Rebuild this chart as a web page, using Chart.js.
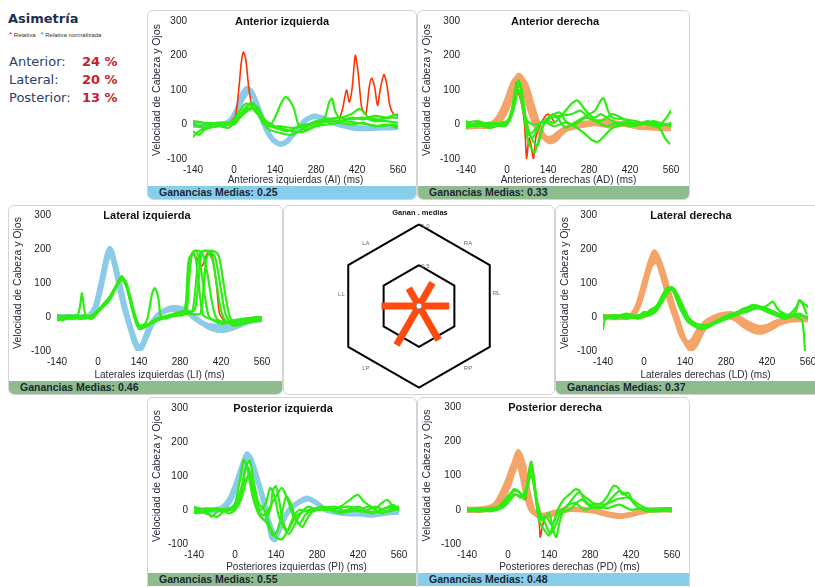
<!DOCTYPE html>
<html>
<head>
<meta charset="utf-8">
<script src="https://cdn.jsdelivr.net/npm/chart.js@4.4.1/dist/chart.umd.min.js"></script>
<style>
body{margin:0;width:815px;height:587px;position:relative;overflow:hidden;background:#fff;font-family:'Liberation Sans',Arial,sans-serif;}
.panel{position:absolute;box-sizing:border-box;border:1px solid #d4d4d4;border-radius:6px;overflow:hidden;background:#fff}
.bar{position:absolute;left:0;right:0;bottom:0;height:13px;font-weight:bold;font-size:10.5px;line-height:13px;padding-left:11px;color:#1c2833;white-space:nowrap}
.blue{background:#87ceeb}
.green{background:#8fbc8f}
canvas{position:absolute}
.ttl{position:absolute;font-weight:bold;font-size:11px;color:#111;transform:translate(-50%,-50%);white-space:nowrap}
.asy{position:absolute;font-family:'DejaVu Sans',sans-serif;font-size:13px;color:#2b3f66;white-space:nowrap}
.pct{position:absolute;font-family:'DejaVu Sans',sans-serif;font-size:13px;font-weight:bold;color:#c8202a;white-space:nowrap}
</style>
</head>
<body>
<div id="asimetria"></div>
<div id="paneles"></div>
<script>
// ejes comunes
const timeTicks = [-140, 0, 140, 280, 420, 560];
const velTicks = [-100, 0, 100, 200, 300];

// asimetría
const asimetriaLabels = ['Anterior:', 'Lateral:', 'Posterior:'];
const asimetriaPct = [24, 20, 13];

// ganancias medias por canal
const canales = ['LA', 'RA', 'LL', 'RL', 'LP', 'RP'];
const canalAngulos = [120, 60, 180, 0, 240, 300];
const gananciasMedias = [0.25, 0.33, 0.46, 0.37, 0.55, 0.48];
const anillos = [0.5, 1.0];

// ---- Anterior izquierda (AI) ----
const aiHead1 = [[-140,2],[-100,0],[-60,0],[-30,3],[-10,15],[10,45],[30,90],[45,105],[60,95],[80,55],[100,5],[120,-30],[140,-50],[160,-58],[180,-50],[200,-30],[220,-10],[240,10],[260,20],[290,22],[320,15],[360,0],[400,-5],[440,-10],[480,-10],[520,-8],[560,-5]];
const aiHead2 = [[-140,-3],[-100,-2],[-60,-3],[-30,0],[-10,10],[10,35],[30,75],[50,95],[65,85],[85,45],[105,0],[125,-35],[145,-52],[165,-55],[185,-45],[205,-25],[225,-5],[250,15],[275,25],[300,18],[340,5],[380,-5],[420,-12],[460,-12],[500,-10],[540,-10],[560,-8]];
const aiRed1 = [[-10,10],[5,25],[15,90],[25,180],[32,210],[40,190],[50,110],[60,60],[75,40],[90,25]];
const aiRed2 = [[360,15],[372,50],[384,100],[394,65],[404,110],[414,200],[424,150],[436,50],[450,30],[462,110],[470,135],[480,110],[490,55],[500,105],[512,145],[522,115],[532,55],[545,30],[560,25]];
const aiEye1 = [[-140,5],[-120,-5],[-100,0],[-80,5],[-60,0],[-40,-5],[-20,0],[0,10],[20,30],[40,50],[60,60],[80,50],[100,20],[120,0],[140,-10],[160,-15],[180,-20],[200,-15],[220,-5],[240,0],[280,5],[320,15],[360,20],[400,15],[440,20],[480,10],[520,10],[560,5]];
const aiEye2 = [[-140,-35],[-120,-20],[-100,-10],[-80,0],[-40,5],[0,5],[20,25],[40,45],[60,65],[80,45],[100,10],[120,-5],[140,20],[160,60],[175,80],[190,70],[205,45],[220,0],[240,-15],[260,-10],[300,5],[340,10],[380,10],[420,5],[460,0],[500,-5],[540,0],[560,-5]];
const aiEye3 = [[-140,0],[-100,-10],[-60,5],[-20,5],[0,15],[20,40],[40,60],[60,55],[80,35],[100,5],[120,-15],[160,-25],[200,-30],[240,-10],[280,5],[310,20],[325,65],[335,75],[345,40],[360,20],[400,30],[430,45],[460,20],[500,15],[540,25],[560,30]];
const aiEye4 = [[-140,10],[-100,5],[-60,0],[-20,-10],[0,5],[20,20],[40,40],[60,50],[80,40],[100,15],[120,5],[140,-5],[160,-5],[200,-10],[240,-5],[280,10],[320,15],[360,10],[400,20],[440,15],[480,25],[520,20],[560,20]];
const aiEye5 = [[-140,-20],[-120,-30],[-100,-15],[-60,-5],[-20,0],[0,0],[20,20],[40,35],[60,45],[80,30],[100,5],[120,-5],[160,-10],[200,-20],[240,-20],[280,-5],[320,0],[360,5],[400,0],[440,5],[480,-5],[520,0],[560,-10]];

// ---- Anterior derecha (AD) ----
const adHead1 = [[-140,-5],[-100,-5],[-60,-3],[-40,5],[-20,25],[0,60],[20,110],[40,143],[60,120],[80,70],[100,15],[120,-25],[140,-45],[160,-45],[180,-30],[200,-15],[240,-5],[280,0],[320,5],[360,0],[400,0],[440,-5],[480,-5],[520,-10],[560,-10]];
const adHead2 = [[-140,-8],[-100,-6],[-60,-5],[-40,0],[-20,15],[0,45],[20,95],[45,135],[65,115],[85,60],[105,5],[125,-35],[145,-50],[165,-45],[185,-25],[210,-10],[250,0],[290,5],[330,10],[370,5],[410,0],[450,-8],[490,-10],[530,-12],[560,-12]];
const adHead3 = [[-140,-2],[-100,-3],[-60,0],[-40,10],[-20,35],[0,75],[20,120],[35,135],[55,110],[75,50],[95,0],[115,-30],[135,-40],[155,-38],[175,-25],[200,-10],[240,0],[280,5],[320,0],[360,-5],[400,5],[440,0],[480,-5],[520,-8],[560,-8]];
const adRed1 = [[30,120],[50,60],[60,0],[67,-100],[75,-40],[82,-60],[90,-100],[100,-30],[120,10],[140,30],[160,10]];
const adEye1 = [[-140,10],[-120,0],[-100,5],[-80,0],[-60,-5],[-40,5],[-20,0],[0,5],[15,40],[30,110],[40,128],[50,90],[60,20],[70,-40],[80,-65],[95,-80],[110,-40],[125,0],[140,10],[160,5],[180,20],[200,40],[220,60],[240,70],[260,50],[280,30],[300,20],[320,30],[340,20],[360,10],[380,0],[400,5],[440,0],[480,5],[520,-5],[560,5]];
const adEye2 = [[-140,0],[-100,-5],[-60,5],[-20,-5],[0,0],[15,30],[30,90],[42,115],[55,70],[65,0],[75,-30],[90,-20],[110,0],[140,20],[160,30],[180,10],[200,-10],[220,0],[260,20],[300,40],[320,70],[330,76],[345,40],[360,20],[400,15],[440,10],[480,0],[520,5],[560,-5]];
const adEye3 = [[-140,-10],[-100,0],[-60,-10],[-20,0],[0,5],[20,50],[35,105],[45,120],[55,60],[70,-10],[85,-40],[100,-20],[120,10],[160,-5],[200,5],[240,-10],[270,-30],[290,-45],[310,-50],[330,-35],[360,-10],[400,0],[440,5],[480,0],[520,-10],[540,-40],[555,-55]];
const adEye4 = [[-140,5],[-100,10],[-60,0],[-20,5],[0,10],[20,45],[38,125],[50,100],[62,30],[75,-20],[90,-50],[105,-60],[120,-10],[140,15],[180,25],[220,30],[250,40],[280,20],[320,10],[360,30],[400,15],[440,0],[480,10],[520,0],[545,20],[560,40]];
const adEye5 = [[-140,-5],[-100,0],[-60,5],[-20,-5],[0,0],[20,35],[40,100],[55,40],[70,10],[90,0],[120,5],[150,25],[180,35],[200,10],[230,0],[270,20],[300,10],[340,-5],[380,5],[420,-5],[460,0],[500,10],[540,0],[560,0]];

// ---- Lateral izquierda (LI) ----
const liHead1 = [[-140,0],[-100,0],[-60,0],[-30,5],[-10,30],[10,100],[30,180],[40,202],[50,185],[70,110],[90,30],[110,-30],[130,-85],[140,-98],[150,-90],[170,-45],[190,-10],[210,10],[240,25],[270,28],[300,20],[330,0],[360,-20],[400,-30],[440,-30],[480,-20],[520,-10],[560,-5]];
const liHead2 = [[-140,-3],[-100,-2],[-60,-2],[-30,2],[-10,20],[10,85],[30,165],[42,190],[55,165],[75,95],[95,20],[115,-40],[132,-80],[145,-88],[160,-70],[180,-30],[200,0],[230,18],[260,25],[290,22],[320,5],[350,-15],[390,-35],[430,-40],[470,-30],[510,-15],[560,-8]];
const liHead3 = [[-140,2],[-100,1],[-60,0],[-30,3],[-10,25],[10,90],[28,170],[38,195],[48,180],[65,120],[85,40],[105,-20],[125,-75],[138,-95],[152,-80],[172,-35],[195,-5],[220,15],[250,22],[280,20],[310,10],[340,-10],[380,-25],[420,-25],[460,-15],[500,-10],[560,-5]];
const liRed1 = [[300,10],[312,120],[320,187],[335,175],[355,150],[375,190],[390,180],[405,90],[415,10],[430,-10]];
const liEye1 = [[-140,0],[-120,-10],[-100,5],[-80,0],[-60,-5],[-40,0],[-20,5],[0,20],[20,40],[40,60],[60,90],[80,118],[95,100],[110,50],[125,0],[140,-30],[160,-25],[180,-15],[200,-5],[220,0],[240,5],[260,10],[280,15],[295,20],[305,80],[315,160],[325,192],[345,195],[360,180],[375,120],[390,40],[405,-5],[430,-15],[460,-10],[500,-5],[540,0],[560,-5]];
const liEye2 = [[-140,-10],[-110,-5],[-80,5],[-50,0],[-20,-5],[0,15],[20,35],[40,55],[60,85],[80,115],[95,105],[110,60],[125,10],[140,-25],[160,-30],[180,-20],[200,-10],[230,0],[260,5],[290,10],[320,15],[330,60],[340,150],[350,190],[370,195],[390,170],[405,100],[420,20],[440,-15],[480,-20],[520,-10],[560,-8]];
const liEye3 = [[-140,5],[-110,0],[-80,-5],[-50,5],[-20,0],[0,18],[20,38],[40,58],[60,88],[80,120],[95,98],[110,45],[125,-5],[140,-35],[160,-28],[180,-18],[210,-5],[240,0],[270,5],[300,10],[330,8],[350,10],[360,80],[370,170],[385,195],[410,185],[425,120],[440,40],[455,-10],[480,-20],[520,-15],[560,-10]];
const liEye4 = [[-140,-10],[-100,0],[-70,5],[-60,40],[-55,70],[-48,30],[-40,0],[-20,5],[0,15],[40,55],[80,115],[100,90],[120,20],[140,-35],[160,-30],[180,-20],[220,-5],[260,5],[300,10],[310,100],[320,185],[335,195],[350,150],[365,60],[380,0],[420,-20],[460,-15],[500,-10],[560,-5]];
const liEye5 = [[-140,5],[-100,-5],[-60,0],[-20,0],[0,15],[40,50],[80,110],[100,85],[120,20],[140,-25],[160,-20],[170,0],[185,70],[194,85],[205,60],[215,0],[230,-5],[260,5],[300,15],[330,20],[345,120],[355,190],[380,195],[400,175],[420,80],[435,10],[460,-25],[500,-20],[540,-10],[560,-10]];
const liEye6 = [[-140,-5],[-100,5],[-60,-5],[-20,5],[0,20],[40,58],[80,116],[100,80],[120,15],[140,-30],[170,-22],[200,-8],[240,0],[270,5],[290,5],[300,30],[305,120],[312,175],[330,185],[340,130],[350,50],[360,5],[400,-10],[440,-15],[480,-10],[520,-5],[560,0]];

// ---- Lateral derecha (LD) ----
const ldHead1 = [[-140,0],[-100,0],[-60,0],[-40,5],[-20,40],[0,100],[20,160],[35,192],[50,170],[70,115],[90,55],[110,5],[130,-50],[150,-85],[165,-80],[185,-50],[210,-20],[240,-5],[270,5],[300,5],[330,-15],[360,-30],[390,-38],[420,-35],[450,-20],[480,-10],[520,-5],[560,-5]];
const ldHead2 = [[-140,-2],[-100,-2],[-60,-1],[-40,3],[-20,30],[0,85],[20,150],[32,175],[48,160],[68,105],[88,45],[108,-5],[128,-55],[148,-75],[165,-70],[185,-40],[210,-15],[240,0],[270,8],[300,10],[330,-5],[360,-20],[390,-30],[420,-28],[450,-15],[490,-8],[530,-5],[560,-3]];
const ldHead3 = [[-140,2],[-100,1],[-60,2],[-40,8],[-20,35],[0,90],[22,150],[42,165],[58,150],[78,95],[98,35],[118,-20],[140,-70],[160,-95],[178,-80],[198,-45],[220,-20],[250,-5],[280,0],[310,-5],[340,-25],[370,-40],[400,-45],[430,-35],[460,-20],[500,-10],[540,-8],[560,-8]];
const ldEye1 = [[-140,-35],[-130,0],[-100,5],[-60,0],[-20,5],[0,10],[20,15],[40,25],[60,60],[80,87],[100,75],[120,30],[140,0],[160,-20],[180,-30],[200,-30],[220,-25],[240,-15],[260,-10],[280,-5],[300,5],[320,15],[340,25],[360,30],[380,35],[400,30],[420,20],[440,10],[460,5],[480,0],[500,5],[520,0],[540,-10],[550,-100]];
const ldEye2 = [[-140,5],[-100,-5],[-60,5],[-20,0],[0,15],[20,10],[40,20],[60,45],[80,80],[90,85],[110,60],[130,15],[150,-15],[170,-25],[200,-35],[230,-20],[260,-5],[300,10],[340,20],[370,35],[400,25],[430,40],[440,45],[460,20],[480,10],[500,0],[520,20],[530,50],[545,40],[560,30]];
const ldEye3 = [[-140,0],[-100,5],[-60,-5],[-20,5],[0,5],[20,20],[40,30],[60,55],[80,75],[100,80],[120,45],[140,10],[160,-10],[180,-20],[210,-25],[240,-20],[270,-10],[300,0],[330,10],[360,20],[390,25],[420,15],[450,5],[480,-5],[520,5],[560,0]];
const ldEye4 = [[-140,-5],[-100,0],[-60,0],[-20,-5],[0,0],[20,5],[40,15],[60,40],[80,70],[100,85],[120,55],[140,20],[160,-15],[190,-35],[220,-30],[250,-15],[280,0],[310,10],[340,20],[380,30],[420,25],[460,10],[500,5],[530,10],[560,-5]];
const ldEye5 = [[-140,5],[-100,0],[-60,10],[-20,0],[0,5],[20,10],[40,20],[60,50],[75,80],[95,88],[115,65],[135,25],[155,-5],[175,-20],[200,-25],[230,-20],[260,-10],[290,0],[320,10],[350,15],[380,25],[410,30],[440,15],[470,5],[500,10],[520,30],[530,45],[540,40],[555,10]];

// ---- Posterior izquierda (PI) ----
const piHead1 = [[-140,0],[-100,0],[-60,2],[-40,10],[-20,30],[0,70],[20,120],[40,165],[55,150],[75,95],[95,35],[110,-20],[125,-80],[135,-88],[150,-60],[170,-20],[190,5],[220,25],[245,35],[270,25],[300,5],[340,-5],[380,-10],[420,-10],[460,-15],[500,-10],[540,-5],[560,-5]];
const piHead2 = [[-140,-2],[-100,-2],[-60,0],[-40,5],[-20,22],[0,58],[22,110],[45,150],[62,130],[82,75],[100,20],[118,-40],[135,-72],[148,-65],[165,-30],[185,0],[215,20],[250,32],[280,20],[310,0],[350,-8],[390,-12],[430,-12],[470,-15],[510,-10],[560,-6]];
const piEye1 = [[-140,5],[-100,0],[-80,-20],[-60,-5],[-20,0],[0,20],[15,80],[30,148],[45,110],[60,40],[80,-10],[100,-30],[120,0],[130,60],[140,70],[150,30],[165,-40],[180,-60],[200,-30],[220,-10],[250,0],[280,5],[320,0],[360,10],[400,35],[420,45],[440,25],[480,5],[500,20],[520,30],[540,10],[560,5]];
const piEye2 = [[-140,-5],[-100,5],[-60,0],[-20,5],[0,10],[20,60],[40,130],[55,100],[70,30],[90,-20],[110,-40],[130,-75],[145,-60],[160,-10],[175,40],[190,20],[210,-30],[230,-50],[250,-20],[270,0],[300,10],[340,-5],[380,0],[420,10],[460,-5],[500,0],[540,15],[560,0]];
const piEye3 = [[-140,0],[-100,-10],[-60,-20],[-40,-5],[0,5],[20,40],[35,120],[50,145],[65,80],[80,20],[100,0],[120,-50],[140,-80],[160,-86],[180,-60],[200,-20],[220,0],[260,-5],[300,5],[340,10],[380,-5],[420,0],[460,10],[500,-10],[540,5],[560,0]];
const piEye4 = [[-140,10],[-100,0],[-60,5],[-20,-10],[0,0],[20,30],[40,90],[50,110],[65,60],[85,0],[105,20],[120,65],[135,40],[150,-20],[165,-50],[185,-70],[205,-40],[225,-10],[250,10],[280,0],[320,5],[360,-10],[400,0],[440,-5],[480,10],[520,-5],[560,5]];
const piEye5 = [[-140,-10],[-100,-5],[-60,0],[-20,5],[0,15],[25,70],[45,100],[60,60],[80,-5],[100,-15],[120,10],[140,40],[160,65],[180,30],[200,-20],[220,-40],[240,-15],[270,5],[310,0],[350,5],[390,10],[430,0],[470,-10],[510,5],[560,10]];

// ---- Posterior derecha (PD) ----
const pdHead1 = [[-140,0],[-100,0],[-60,5],[-40,15],[-20,40],[0,80],[20,135],[35,170],[50,140],[65,60],[80,5],[100,-15],[130,-20],[160,-10],[200,0],[250,0],[300,-5],[340,-15],[380,-20],[420,-15],[460,-5],[500,0],[560,0]];
const pdHead2 = [[-140,-2],[-100,-2],[-60,2],[-40,10],[-20,30],[0,65],[20,115],[40,150],[55,125],[70,50],[85,0],[105,-18],[135,-18],[165,-8],[205,0],[255,2],[305,-5],[345,-12],[385,-18],[425,-12],[465,-5],[505,0],[560,0]];
const pdHead3 = [[-140,2],[-100,2],[-60,8],[-40,20],[-20,50],[0,90],[15,125],[28,140],[42,120],[58,55],[75,5],[95,-12],[125,-15],[155,-8],[195,0],[245,0],[295,-3],[335,-12],[375,-18],[415,-15],[455,-5],[500,0],[560,0]];
const pdRed1 = [[60,30],[70,100],[78,141],[88,100],[100,0],[107,-41],[110,-80],[115,-60],[125,-20]];
const pdEye1 = [[-140,0],[-100,5],[-60,0],[-40,5],[-20,20],[0,40],[20,55],[40,50],[55,30],[65,60],[75,130],[80,140],[90,80],[100,0],[110,-40],[125,-60],[140,-75],[155,-40],[170,0],[190,30],[210,45],[230,60],[245,55],[260,30],[280,15],[320,20],[340,40],[360,70],[375,65],[390,45],[410,50],[430,20],[460,0],[500,0],[540,5],[560,0]];
const pdEye2 = [[-140,-5],[-100,0],[-60,5],[-20,10],[0,30],[20,45],[40,40],[60,50],[72,110],[80,125],[92,50],[105,-20],[120,-30],[140,-10],[155,-60],[165,-80],[175,-40],[190,0],[210,20],[240,50],[260,40],[290,20],[330,15],[370,30],[410,35],[440,10],[480,-5],[520,0],[560,-5]];
const pdEye3 = [[-140,5],[-100,-5],[-60,0],[-20,15],[0,35],[20,60],[35,55],[55,40],[70,80],[78,120],[88,90],[100,20],[115,-30],[130,-20],[150,-45],[170,-10],[200,10],[230,20],[260,0],[300,10],[340,5],[380,15],[420,0],[460,5],[500,-5],[560,0]];
const pdEye4 = [[-140,0],[-100,0],[-60,-5],[-20,5],[0,20],[25,45],[45,35],[65,70],[80,100],[95,40],[110,-10],[130,-45],[145,-70],[160,-50],[180,-10],[210,0],[250,30],[280,10],[320,5],[350,30],[380,55],[400,45],[430,25],[470,5],[510,0],[560,5]];

const colorOjo = '#2fec14';
const colorRojo = '#ff3300';
const colorAzul = '#8ccbe8';
const colorNaranja = '#f4a469';
const fuente = "'Liberation Sans', Arial, sans-serif";

// paneles: caja del panel, lienzo y área del gráfico (px)
const paneles = [
  {id: 'ai', titulo: 'Anterior izquierda', eje: 'Anteriores izquierdas (AI) (ms)', gi: 0, barra: 'blue',
   panel: [147, 10, 270, 190], canvas: [147, 9, 270, 178], plot: [193, 398, 21, 159], tx: 282,
   head: [aiHead1, aiHead2], headColor: colorAzul, red: [aiRed1, aiRed2], eye: [aiEye1, aiEye2, aiEye3, aiEye4, aiEye5]},
  {id: 'ad', titulo: 'Anterior derecha', eje: 'Anteriores derechas (AD) (ms)', gi: 1, barra: 'green',
   panel: [417, 10, 273, 190], canvas: [417, 9, 273, 178], plot: [466, 671, 21, 159], tx: 555,
   head: [adHead1, adHead2, adHead3], headColor: colorNaranja, red: [adRed1], eye: [adEye1, adEye2, adEye3, adEye4, adEye5]},
  {id: 'li', titulo: 'Lateral izquierda', eje: 'Laterales izquierdas (LI) (ms)', gi: 2, barra: 'green',
   panel: [8, 205, 275, 190], canvas: [8, 205, 275, 177], plot: [57, 262, 215, 351], tx: 147,
   head: [liHead1, liHead2, liHead3], headColor: colorAzul, red: [liRed1], eye: [liEye1, liEye2, liEye3, liEye4, liEye5, liEye6]},
  {id: 'ld', titulo: 'Lateral derecha', eje: 'Laterales derechas (LD) (ms)', gi: 3, barra: 'green',
   panel: [555, 205, 275, 190], canvas: [555, 205, 260, 177], plot: [603, 808, 215, 351], tx: 691,
   head: [ldHead1, ldHead2, ldHead3], headColor: colorNaranja, red: [], eye: [ldEye1, ldEye2, ldEye3, ldEye4, ldEye5]},
  {id: 'pi', titulo: 'Posterior izquierda', eje: 'Posteriores izquierdas (PI) (ms)', gi: 4, barra: 'green',
   panel: [147, 397, 270, 195], canvas: [147, 397, 270, 177], plot: [194, 399, 408, 544], tx: 283,
   head: [piHead1, piHead2], headColor: colorAzul, red: [], eye: [piEye1, piEye2, piEye3, piEye4, piEye5]},
  {id: 'pd', titulo: 'Posterior derecha', eje: 'Posteriores derechas (PD) (ms)', gi: 5, barra: 'blue',
   panel: [417, 397, 273, 195], canvas: [417, 397, 273, 177], plot: [467, 672, 407, 544], tx: 555,
   head: [pdHead1, pdHead2, pdHead3], headColor: colorNaranja, red: [pdRed1], eye: [pdEye1, pdEye2, pdEye3, pdEye4]}
];

const cont = document.getElementById('paneles');

function crearPanel(p) {
  const [pl, pt, pw, ph] = p.panel;
  const div = document.createElement('div');
  div.className = 'panel';
  Object.assign(div.style, {left: pl + 'px', top: pt + 'px', width: pw + 'px', height: ph + 'px'});
  const bar = document.createElement('div');
  bar.className = 'bar ' + p.barra;
  if (ph > 190) bar.style.bottom = (ph - 190) + 'px';
  bar.textContent = 'Ganancias Medias: ' + gananciasMedias[p.gi].toFixed(2);
  div.appendChild(bar);
  cont.appendChild(div);
}

function crearGrafico(p) {
  const [cl, ct, cw, ch] = p.canvas;
  const [L, R, T, B] = p.plot;
  const canvas = document.createElement('canvas');
  canvas.width = cw; canvas.height = ch;
  Object.assign(canvas.style, {left: cl + 'px', top: ct + 'px', width: cw + 'px', height: ch + 'px'});
  document.body.appendChild(canvas);

  const t = document.createElement('div');
  t.className = 'ttl';
  t.style.left = p.tx + 'px';
  t.style.top = T + 'px';
  t.textContent = p.titulo;
  document.body.appendChild(t);

  const datasets = [];
  p.eye.forEach(d => datasets.push({data: d, borderColor: colorOjo, borderWidth: 2.2, order: 0}));
  p.red.forEach(d => datasets.push({data: d, borderColor: colorRojo, borderWidth: 1.6, order: 1}));
  p.head.forEach(d => datasets.push({data: d, borderColor: p.headColor, borderWidth: 5, order: 2}));

  const yw = L - cl;
  const xh = ct + ch - B;

  new Chart(canvas, {
    type: 'line',
    data: {datasets: datasets},
    options: {
      responsive: false,
      animation: false,
      layout: {padding: {left: 0, top: T - ct, right: cl + cw - R, bottom: 0}},
      elements: {
        point: {radius: 0},
        line: {tension: 0.25, borderJoinStyle: 'round', borderCapStyle: 'round'}
      },
      plugins: {legend: {display: false}, tooltip: {enabled: false}},
      scales: {
        x: {
          type: 'linear',
          min: timeTicks[0],
          max: timeTicks[timeTicks.length - 1],
          grid: {display: false, drawTicks: false},
          border: {display: false},
          ticks: {stepSize: timeTicks[1] - timeTicks[0], color: '#222', padding: 5, maxRotation: 0, autoSkip: false,
                  font: {family: fuente, size: 10}},
          title: {display: true, text: p.eje, color: '#2a2a3a', padding: {top: 0, bottom: 1},
                  font: {family: fuente, size: 10}},
          afterFit: s => { s.height = xh; s.paddingLeft = 0; s.paddingRight = 0; }
        },
        y: {
          min: velTicks[0],
          max: velTicks[velTicks.length - 1],
          grid: {display: false, drawTicks: false},
          border: {display: false},
          ticks: {stepSize: velTicks[1] - velTicks[0], color: '#222', padding: 6,
                  font: {family: fuente, size: 10}},
          title: {display: true, text: 'Velocidad de Cabeza y Ojos', color: '#2a2a3a', padding: {top: 4, bottom: 0},
                  font: {family: fuente, size: 10.5}},
          afterFit: s => { s.width = yw; s.paddingTop = 0; s.paddingBottom = 0; }
        }
      }
    }
  });
}

// panel central
(function () {
  const div = document.createElement('div');
  div.className = 'panel';
  Object.assign(div.style, {left: '283px', top: '205px', width: '272px', height: '190px'});
  cont.appendChild(div);
})();
paneles.forEach(crearPanel);
paneles.forEach(crearGrafico);

// bloque de asimetría
(function () {
  const a = document.getElementById('asimetria');
  let html = '<div style="position:absolute;left:8px;top:11px;font-family:\'DejaVu Sans\',sans-serif;font-weight:bold;font-size:13px;color:#1e2f4f">Asimetría</div>';
  html += '<div style="position:absolute;left:9px;top:30px;font-size:6px;color:#333;white-space:nowrap"><span style="color:#d0202a;font-size:8px">*</span> Relativa &nbsp;&nbsp;<span style="color:#2a9a8a;font-size:8px">*</span> Relativa normalizada</div>';
  asimetriaLabels.forEach((l, i) => {
    const y = 54 + i * 18;
    html += '<div class="asy" style="left:9px;top:' + y + 'px">' + l + '</div>';
    html += '<div class="pct" style="left:82px;top:' + y + 'px">' + asimetriaPct[i] + ' %</div>';
  });
  a.innerHTML = html;
})();

// diagrama hexagonal de ganancias
const rad = a => a * Math.PI / 180;
const anilloData = r => [90, 30, -30, -90, -150, 150, 90].map(a => [r * Math.cos(rad(a)), r * Math.sin(rad(a))]);
const barraData = i => [[0, 0], [gananciasMedias[i] * Math.cos(rad(canalAngulos[i])), gananciasMedias[i] * Math.sin(rad(canalAngulos[i]))]];

const etiquetasPos = {LA: [-0.65, 0.77], RA: [0.6, 0.77], LL: [-0.95, 0.14], RL: [0.95, 0.15], LP: [-0.65, -0.76], RP: [0.6, -0.76]};

const textoRadar = {
  id: 'textoRadar',
  afterDraw(chart) {
    const {ctx, scales: {x, y}} = chart;
    ctx.save();
    ctx.textAlign = 'center';
    ctx.textBaseline = 'middle';
    ctx.fillStyle = '#7d6450';
    ctx.font = '6px ' + fuente;
    canales.forEach(c => {
      const p = etiquetasPos[c];
      ctx.fillText(c, x.getPixelForValue(p[0]), y.getPixelForValue(p[1]));
    });
    anillos.forEach(r => {
      ctx.fillText(r.toFixed(1), x.getPixelForValue(0.08), y.getPixelForValue(r - 0.02));
    });
    ctx.restore();
  }
};

(function () {
  const canvas = document.createElement('canvas');
  canvas.width = 200; canvas.height = 200;
  Object.assign(canvas.style, {left: '319px', top: '206px', width: '200px', height: '200px'});
  document.body.appendChild(canvas);

  const t = document.createElement('div');
  t.style.cssText = 'position:absolute;left:420px;top:212px;transform:translate(-50%,-50%);font-weight:bold;font-size:7.5px;color:#111;white-space:nowrap';
  t.textContent = 'Ganan . medias';
  document.body.appendChild(t);

  const ds = [];
  anillos.forEach(r => ds.push({data: anilloData(r), showLine: true, borderColor: '#000', borderWidth: 2, pointRadius: 0, order: 3}));
  canales.forEach((c, i) => ds.push({data: barraData(i), showLine: true, borderColor: '#ff4a10', borderWidth: 7,
                                    borderCapStyle: 'butt', pointRadius: 0, order: 1}));
  ds.push({data: [[0, 0]], pointRadius: 3, pointBackgroundColor: '#fff', pointBorderColor: '#888', pointBorderWidth: 1, order: 0});

  const lim = 100 / 86;
  new Chart(canvas, {
    type: 'scatter',
    data: {datasets: ds},
    options: {
      responsive: false,
      animation: false,
      layout: {padding: 0},
      plugins: {legend: {display: false}, tooltip: {enabled: false}},
      scales: {
        x: {type: 'linear', min: -lim, max: lim, display: false},
        y: {type: 'linear', min: -lim, max: lim, display: false}
      }
    },
    plugins: [textoRadar]
  });
})();
</script>
</body>
</html>
